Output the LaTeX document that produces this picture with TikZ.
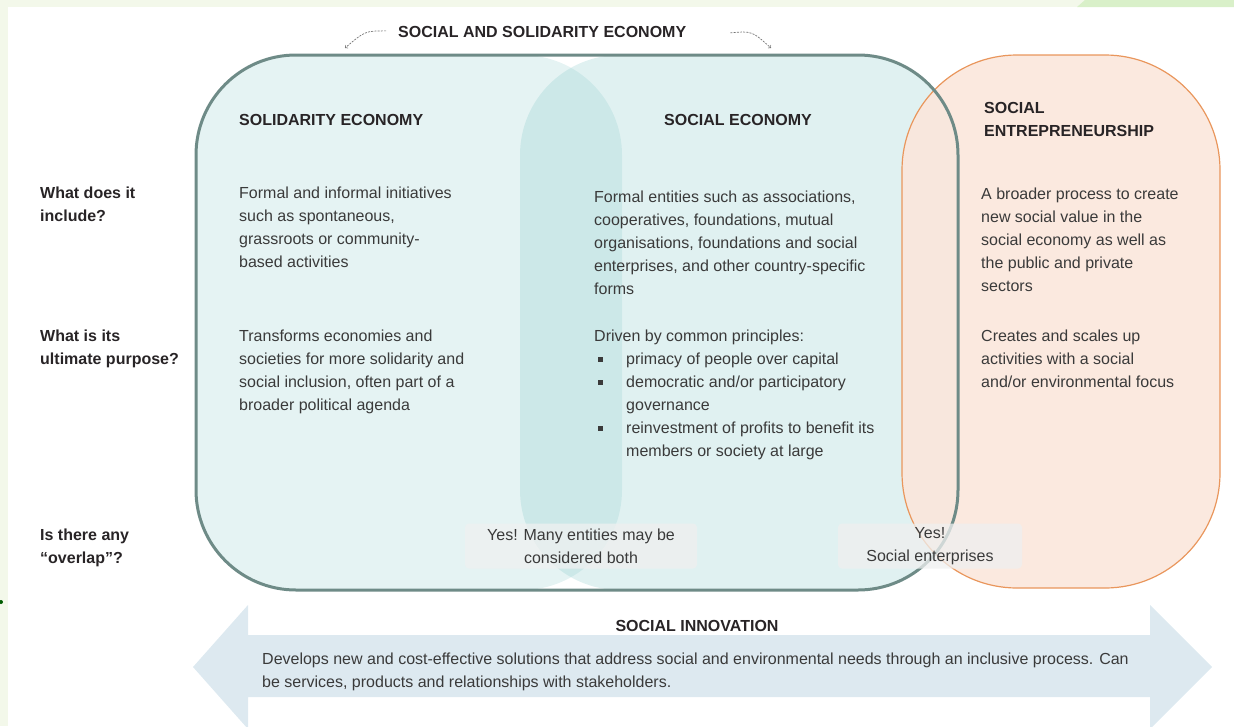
\documentclass[tikz,border=0pt]{standalone}
\usepackage{fontspec}
\setmainfont{Liberation Sans}
\usepackage{xcolor}
\usepackage{tikz}
\usetikzlibrary{arrows,shapes}
\definecolor{textgray}{RGB}{58,58,58}
\definecolor{headgray}{RGB}{40,36,38}
\definecolor{ssegreen}{RGB}{135,200,200}
\definecolor{sseline}{RGB}{110,139,135}
\definecolor{sefill}{RGB}{251,231,220}
\definecolor{seline}{RGB}{233,150,92}
\definecolor{innoblue}{RGB}{221,233,240}
\definecolor{framegreen}{RGB}{243,248,234}
\definecolor{cornergreen}{RGB}{217,240,201}
\definecolor{boxgray}{RGB}{239,240,240}
\tikzstyle{txt}=[anchor=north west,inner sep=0pt,align=left,text=textgray,font=\fontsize{16}{23}\selectfont]
\tikzstyle{head}=[anchor=north west,inner sep=0pt,align=left,text=headgray,font=\fontsize{16}{23}\selectfont\bfseries]
\tikzstyle{region}=[rounded corners=100pt]
\tikzstyle{overlap}=[rectangle,rounded corners=4pt,fill=boxgray,fill opacity=0.75,text opacity=1,text=textgray,align=center,minimum height=45pt,inner sep=0pt,font=\fontsize{16}{23}\selectfont]
\tikzstyle{curly}=[->,>=to,gray!90!black,line width=0.7pt,dash pattern=on 2pt off 1.2pt]

\begin{document}
\begin{tikzpicture}[x=1pt,y=-1pt]
        \useasboundingbox (0,0) rectangle (1234,726);
        % page frame
        \fill [framegreen] (0,0) rectangle (1234,7);
        \fill [framegreen] (0,0) rectangle (8,726);
        \fill [cornergreen] (1077,7) -- (1085,0) -- (1234,0) -- (1234,7) -- cycle;
        \fill [black!40!green!60!black] (1,602) circle (2pt);

        % regions
        \fill [region,ssegreen,fill opacity=0.22] (196,55) rectangle (622,590);
        \fill [region,ssegreen,fill opacity=0.26] (520,55) rectangle (958,590);
        \draw [rounded corners=115pt,seline,fill=sefill,fill opacity=0.92,line width=1.2pt] (902,55) rectangle (1220,588);
        \draw [region,sseline,line width=3pt] (196,55) rectangle (958,590);

        % bottom arrow
        \fill [innoblue] (193,667) -- (248,605) -- (248,635) -- (1150,635) -- (1150,605)
              -- (1212,667) -- (1150,729) -- (1150,697) -- (248,697) -- (248,729) -- cycle;

        % titles
        \node at (398,26)  [head] (sse) {SOCIAL AND SOLIDARITY ECONOMY};
        \node at (239,114) [head] (solidarity) {SOLIDARITY ECONOMY};
        \node at (664,114) [head] (socecon) {SOCIAL ECONOMY};
        \node at (984,102) [head] (socent) {SOCIAL\\ENTREPRENEURSHIP};
        \node at (697,620) [head,anchor=north] (innov) {SOCIAL INNOVATION};

        \coordinate (l) at (345,48);
        \coordinate (r) at (771,48);
        \draw [curly] ([xshift=-12pt,yshift=1pt]sse.west) .. controls (365,31) .. (l);
        \draw [curly] ([xshift=44pt,yshift=-1pt]sse.east) .. controls (752,31) .. (r);

        % questions
        \node at (40,187) [head] (q1) {What does it\\include?};
        \node at (40,330) [head] (q2) {What is its\\ultimate purpose?};
        \node at (40,529) [head] (q3) {Is there any\\``overlap''?};

        % what does it include
        \node at (239,187) [txt] (solinc) {Formal and informal initiatives\\such as spontaneous,\\grassroots or community-\\based activities};
        \node at (594,191) [txt] (secinc) {Formal entities such as associations,\\cooperatives, foundations, mutual\\organisations, foundations and social\\enterprises, and other country-specific\\forms};
        \node at (981,188) [txt] (entinc) {A broader process to create\\new social value in the\\social economy as well as\\the public and private\\sectors};

        % ultimate purpose
        \node at (239,330) [txt] (solpur) {Transforms economies and\\societies for more solidarity and\\social inclusion, often part of a\\broader political agenda};
        \node at (594,330) [txt] (secpur) {Driven by common principles:};
        \node at (626,353) [txt] (secbul) {\llap{\rule[3pt]{5pt}{5pt}\hspace{23pt}}primacy of people over capital\\
              \llap{\rule[3pt]{5pt}{5pt}\hspace{23pt}}democratic and/or participatory\\governance\\
              \llap{\rule[3pt]{5pt}{5pt}\hspace{23pt}}reinvestment of profits to benefit its\\members or society at large};
        \node at (981,330) [txt] (entpur) {Creates and scales up\\activities with a social\\and/or environmental focus};

        % overlap
        \node at (581,546) [overlap,minimum width=232pt] (both) {Yes! Many entities may be\\considered both};
        \node at (930,546) [overlap,minimum width=184pt] (senter) {Yes!\\Social enterprises};

        % innovation
        \node at (262,653) [txt] (innotxt) {Develops new and cost-effective solutions that address social and environmental needs through an inclusive process. Can\\be services, products and relationships with stakeholders.};
      \end{tikzpicture}
\end{document}
